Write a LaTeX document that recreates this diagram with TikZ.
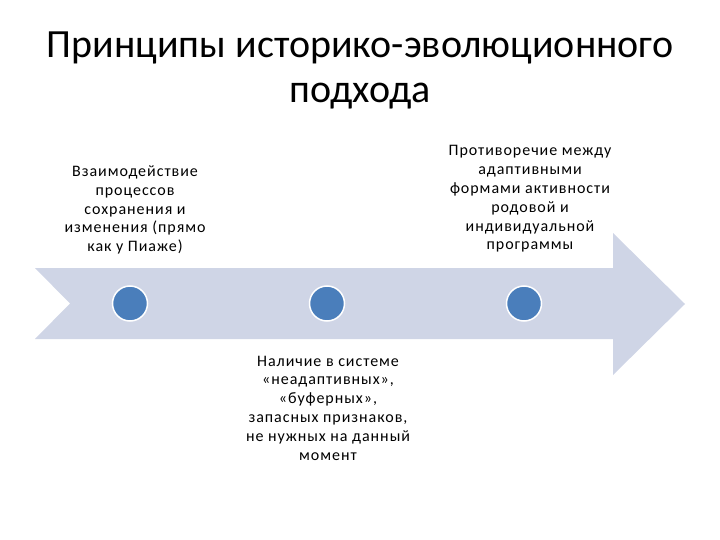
\documentclass[tikz,border=0pt]{standalone}
\usepackage{fontspec}
\setmainfont{Carlito}
\newfontfamily\spacedfont[LetterSpace=6]{Carlito}
\definecolor{arrowfill}{HTML}{CFD5E6}
\definecolor{dotfill}{HTML}{4A7EBB}
\begin{document}
\begin{tikzpicture}[x=1pt,y=-1pt,
  dot/.style={circle,fill=dotfill,draw=white,line width=1.5pt,minimum size=35pt,inner sep=0pt},
  lbl/.style={align=center,font=\spacedfont\fontsize{16}{18.8}\selectfont,inner sep=0pt,anchor=center}]
\useasboundingbox (0,0) rectangle (720,540);
\fill[arrowfill] (35,268) -- (613,268) -- (613,233) -- (685,304) -- (613,375) -- (613,339) -- (35,339) -- (70,303.5) -- cycle;
\node[dot] (d1) at (130,303.5) {};
\node[dot] (d2) at (327,303.5) {};
\node[dot] (d3) at (524,303.5) {};
\node[align=center,font=\fontsize{40}{45}\selectfont,inner sep=0pt] (title) at (360,70) {Принципы историко-эволюционного\\подхода};
\node[lbl] (t1) at (135,210) {Взаимодействие\\процессов\\сохранения и\\изменения (прямо\\как у Пиаже)};
\node[lbl] (t3) at (530,199) {Противоречие между\\адаптивными\\формами активности\\родовой и\\индивидуальной\\программы};
\node[lbl] (t2) at (328,408) {Наличие в системе\\«неадаптивных»,\\«буферных»,\\запасных признаков,\\не нужных на данный\\момент};
\end{tikzpicture}
\end{document}
